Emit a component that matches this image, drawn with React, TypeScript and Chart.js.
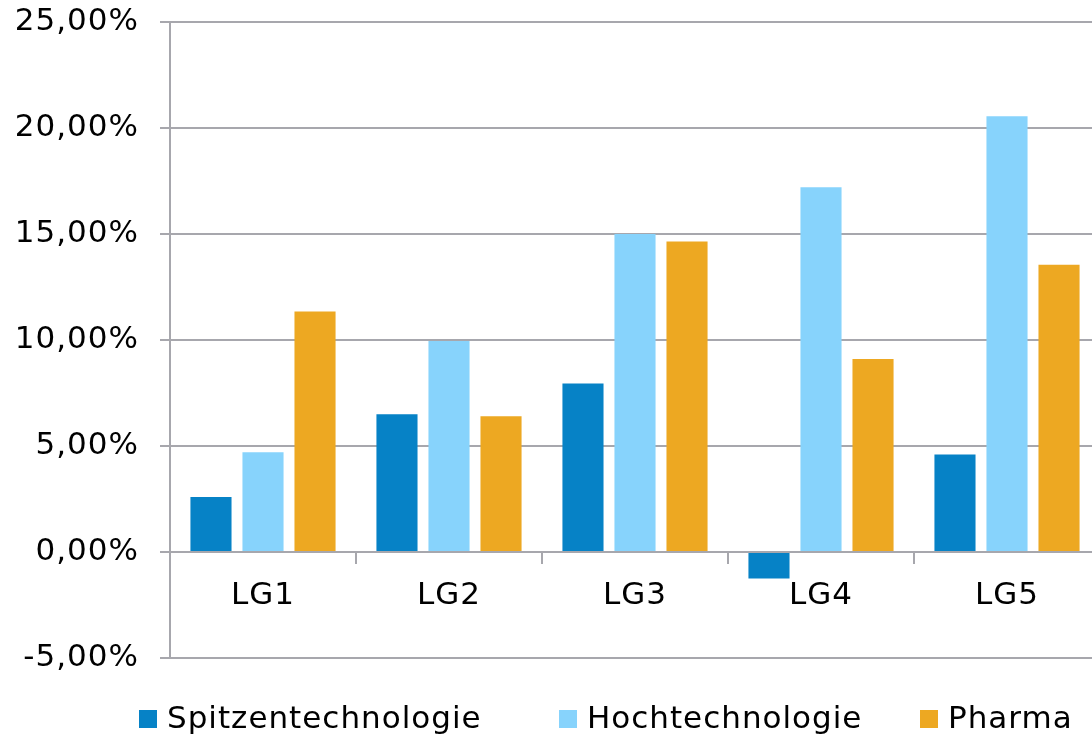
import React, { useEffect, useRef } from "react";
import { Chart, registerables } from "chart.js";

Chart.register(...registerables);

const categories = ["LG1", "LG2", "LG3", "LG4", "LG5"];
const seriesNames = ["Spitzentechnologie", "Hochtechnologie", "Pharma"];
const spitzen = [2.6, 6.5, 7.95, -1.25, 4.6];
const hoch = [4.7, 9.95, 15.0, 17.2, 20.55];
const pharma = [11.35, 6.4, 14.65, 9.1, 13.55];
const seriesColors = ["#0682c6", "#87d3fc", "#eda822"];
const yTicks = [-5, 0, 5, 10, 15, 20, 25];

const FONT = "'DejaVu Sans', Verdana, sans-serif";
const GRID = "#a7a7ad";

const spacingPlugin = {
  id: "letterSpacing",
  beforeDraw(chart: any) {
    chart.ctx.letterSpacing = "1px";
  },
};

// legend item left edges (layout)
const legendX = [139, 559, 920];

const legendPlugin = {
  id: "customLegend",
  afterDraw(chart: any) {
    const ctx = chart.ctx;
    ctx.save();
    ctx.letterSpacing = "1px";
    ctx.font = `31px ${FONT}`;
    const box = 18;
    const gap = 10;
    const baseline = 728;
    chart.data.datasets.forEach((d: any, i: number) => {
      const x = legendX[i];
      ctx.fillStyle = d.backgroundColor;
      ctx.fillRect(x, 710, box, box);
      ctx.fillStyle = "#000";
      ctx.textBaseline = "alphabetic";
      ctx.textAlign = "left";
      ctx.fillText(d.label, x + box + gap, baseline);
    });
    ctx.restore();
  },
};

export default function App() {
  const ref = useRef<HTMLCanvasElement | null>(null);
  useEffect(() => {
    if (!ref.current) return;
    const values = [spitzen, hoch, pharma];
    const chart = new Chart(ref.current, {
      type: "bar",
      data: {
        labels: categories,
        datasets: seriesNames.map((name, i) => ({
          label: name,
          data: values[i],
          backgroundColor: seriesColors[i],
          borderWidth: 0,
          categoryPercentage: 0.839,
          barPercentage: 0.79,
        })),
      },
      options: {
        responsive: false,
        animation: false,
        devicePixelRatio: 1,
        layout: { padding: { top: 22, bottom: 78, left: 0, right: 0 } },
        plugins: {
          legend: { display: false },
          tooltip: { enabled: false },
        },
        scales: {
          x: {
            type: "category",
            position: { y: 0 } as any,
            offset: true,
            grid: {
              offset: true,
              drawOnChartArea: false,
              drawTicks: true,
              tickLength: 11,
              color: GRID,
              lineWidth: 2,
            },
            border: { display: true, color: GRID, width: 2 },
            ticks: {
              color: "#000",
              font: { family: FONT, size: 31 },
              padding: 14,
              maxRotation: 0,
            },
          },
          y: {
            min: -5,
            max: 25,
            afterBuildTicks: (scale: any) => {
              scale.ticks = yTicks.map((v) => ({ value: v }));
            },
            afterFit: (scale: any) => {
              scale.width = 170;
              scale.paddingTop = 0;
              scale.paddingBottom = 0;
            },
            grid: {
              color: GRID,
              lineWidth: 2,
              tickLength: 10,
              drawTicks: true,
            },
            border: { display: true, color: GRID, width: 2 },
            ticks: {
              color: "#000",
              font: { family: FONT, size: 31 },
              padding: 21,
              callback: (v: any) => Number(v).toFixed(2).replace(".", ",") + "%",
            },
          },
        },
      },
      plugins: [spacingPlugin, legendPlugin],
    });
    return () => chart.destroy();
  }, []);
  return (
    <div
      style={{
        position: "absolute",
        left: 0,
        top: 0,
        width: 1092,
        height: 736,
        overflow: "hidden",
        background: "#fff",
      }}
    >
      <canvas ref={ref} width={1100} height={736} style={{ display: "block" }} />
    </div>
  );
}
